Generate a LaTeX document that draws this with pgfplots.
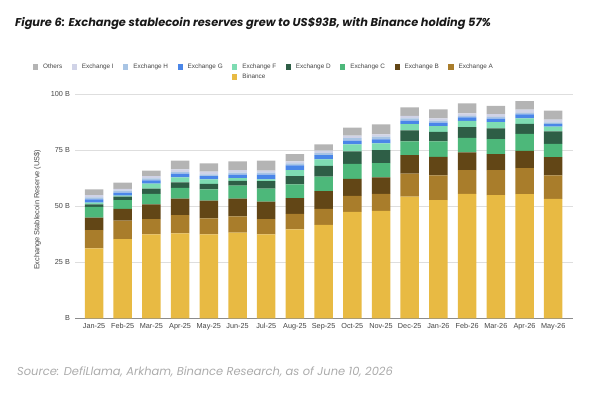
\documentclass[border=0pt]{standalone}
\usepackage{fontspec}
\setmainfont{Liberation Sans}
\newfontfamily\titlefont{Poppins}
\usepackage{pgfplots}
\usepackage{pgfplotstable}
\pgfplotsset{compat=1.18}

\definecolor{cbin}{HTML}{E8BA43}
\definecolor{cA}{HTML}{A97D2B}
\definecolor{cB}{HTML}{624616}
\definecolor{cC}{HTML}{4DB87A}
\definecolor{cD}{HTML}{2E5E46}
\definecolor{cF}{HTML}{7EDCB2}
\definecolor{cG}{HTML}{4A86E8}
\definecolor{cH}{HTML}{A8C4E4}
\definecolor{cI}{HTML}{D0D3E7}
\definecolor{cO}{HTML}{B4B4B4}
\definecolor{srcgray}{HTML}{ABABAB}
\definecolor{ticktext}{HTML}{444444}

\pgfplotstableread{
idx Bin A B C D F G H I O
0 31.2 8.2 5.5 4.8 1.2 0.7 1.5 0.9 1.0 2.6
1 35.4 8.2 5.2 4.0 1.5 0.5 1.3 0.9 0.8 2.8
2 37.5 6.8 6.6 4.6 2.4 2.2 1.5 0.9 1.0 2.4
3 37.9 8.2 7.3 4.8 2.5 2.2 1.7 0.7 1.2 3.9
4 37.5 7.1 7.9 5.1 2.4 2.0 1.5 0.8 1.2 3.7
5 38.2 7.3 7.9 5.8 2.2 1.2 1.5 0.9 1.2 3.9
6 37.5 6.8 7.8 5.8 3.3 0.8 2.1 0.9 0.9 4.5
7 39.7 6.9 7.1 6.1 3.7 2.7 2.1 0.9 0.9 3.2
8 41.7 7.1 8.0 6.4 4.8 3.0 1.8 0.9 1.1 2.9
9 47.5 7.1 7.6 6.7 5.6 3.2 1.6 1.1 1.1 3.6
10 48.0 7.5 7.4 6.4 5.8 3.0 1.8 1.2 1.0 4.5
11 54.3 10.3 8.2 6.2 4.9 2.8 1.5 1.1 1.1 3.8
12 52.8 11.0 8.3 6.9 4.2 2.6 1.5 0.9 1.1 4.0
13 55.5 10.7 7.9 6.5 4.7 2.8 1.6 0.7 1.1 4.5
14 55.0 11.1 7.2 6.7 4.8 2.8 1.5 0.8 1.2 3.7
15 55.4 11.6 7.7 7.6 4.5 2.5 1.7 0.7 1.5 3.7
16 53.3 10.5 8.2 5.9 5.5 2.2 1.2 0.7 1.2 4.0
}\data

\pgfplotsset{legsq/.style={legend image code/.code={\path[draw=none,fill=#1] (0bp,-2.6bp) rectangle (5.2bp,2.6bp);}}}

\begin{document}
\begin{tikzpicture}[x=1bp,y=1bp]
\path[use as bounding box] (0,0) rectangle (600,402);
\node[anchor=west, inner sep=0, text=black!90] at (15,378) {\titlefont\bfseries\itshape\fontsize{11.4}{14}\selectfont Figure 6: Exchange stablecoin reserves grew to US\$93B, with Binance holding 57\%};
\node[anchor=west, inner sep=0, text=srcgray] at (17,30.3) {\titlefont\itshape\fontsize{11.5}{13}\selectfont Source: DefiLlama, Arkham, Binance Research, as of June 10, 2026};
\begin{axis}[
  at={(75bp,83.7bp)}, anchor=south west,
  scale only axis, width=498bp, height=224bp,
  ybar stacked, bar width=18.5bp,
  xmin=-0.662, xmax=16.69, ymin=0, ymax=100,
  xtick={0,...,16},
  xticklabels={Jan-25,Feb-25,Mar-25,Apr-25,May-25,Jun-25,Jul-25,Aug-25,Sep-25,Oct-25,Nov-25,Dec-25,Jan-26,Feb-26,Mar-26,Apr-26,May-26},
  ytick={0,25,50,75,100},
  yticklabels={B,25 B,50 B,75 B,100 B},
  major tick length=0pt,
  separate axis lines,
  axis x line*=bottom, axis y line*=left,
  x axis line style={draw=black!45, line width=0.8pt, -},
  y axis line style={draw=none},
  ymajorgrids, grid style={draw=black!13, line width=0.6pt},
  tick label style={font=\fontsize{7.3}{8}\selectfont, text=ticktext},
  xticklabel style={yshift=-1.7bp},
  yticklabel style={xshift=-1.6bp},
  ylabel={Exchange Stablecoin Reserve (US\$)},
  ylabel style={at={(axis description cs:-0.0757,0.484)}, anchor=center, font=\fontsize{7.4}{8}\selectfont, text=ticktext},
  legend columns=9,
  legend cell align=left,
  legend style={at={(axis description cs:0.3795,1.0996)}, anchor=center, draw=none, fill=none,
    font=\fontsize{6.4}{7}\selectfont, text=ticktext,
    /tikz/every odd column/.append style={column sep=2.9bp},
    /tikz/every even column/.append style={column sep=7.5bp}, row sep=0pt},
]
\addplot+[forget plot, fill=cbin, draw=none] table[x=idx,y=Bin] {\data};
\addplot+[forget plot, fill=cA, draw=none] table[x=idx,y=A] {\data};
\addplot+[forget plot, fill=cB, draw=none] table[x=idx,y=B] {\data};
\addplot+[forget plot, fill=cC, draw=none] table[x=idx,y=C] {\data};
\addplot+[forget plot, fill=cD, draw=none] table[x=idx,y=D] {\data};
\addplot+[forget plot, fill=cF, draw=none] table[x=idx,y=F] {\data};
\addplot+[forget plot, fill=cG, draw=none] table[x=idx,y=G] {\data};
\addplot+[forget plot, fill=cH, draw=none] table[x=idx,y=H] {\data};
\addplot+[forget plot, fill=cI, draw=none] table[x=idx,y=I] {\data};
\addplot+[forget plot, fill=cO, draw=none] table[x=idx,y=O] {\data};
\addlegendimage{legsq=cO}\addlegendentry{Others}
\addlegendimage{legsq=cI}\addlegendentry{Exchange I}
\addlegendimage{legsq=cH}\addlegendentry{Exchange H}
\addlegendimage{legsq=cG}\addlegendentry{Exchange G}
\addlegendimage{legsq=cF}\addlegendentry{Exchange F}
\addlegendimage{legsq=cD}\addlegendentry{Exchange D}
\addlegendimage{legsq=cC}\addlegendentry{Exchange C}
\addlegendimage{legsq=cB}\addlegendentry{Exchange B}
\addlegendimage{legsq=cA}\addlegendentry{Exchange A}
\addlegendimage{legsq=none}\addlegendentry{}
\addlegendimage{legsq=none}\addlegendentry{}
\addlegendimage{legsq=none}\addlegendentry{}
\addlegendimage{legsq=none}\addlegendentry{}
\addlegendimage{legsq=cbin}\addlegendentry{Binance}
\end{axis}
\end{tikzpicture}
\end{document}
